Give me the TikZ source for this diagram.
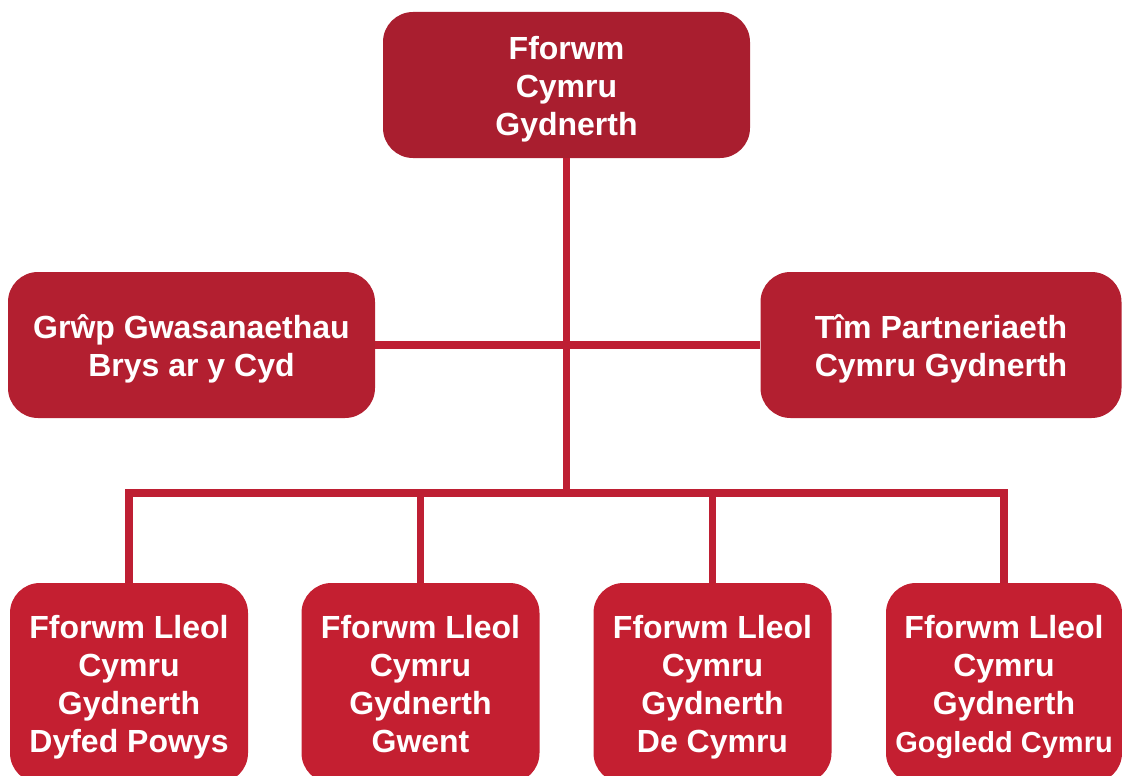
\documentclass[tikz,border=0pt]{standalone}
\usepackage{fontspec}
\setmainfont{Liberation Sans}

\definecolor{topred}{HTML}{A91E2F}
\definecolor{midred}{HTML}{B31F30}
\definecolor{lowred}{HTML}{C41F31}
\definecolor{linkred}{HTML}{BE1F33}

% invisible props so every box sets its lines at the same height
\newcommand{\hiprop}{\rule{0pt}{31pt}}
\newcommand{\loprop}{\rule[-7pt]{0pt}{7pt}}

\begin{document}
\begin{tikzpicture}[x=1pt,y=-1pt]
                    \tikzstyle{box}=[rounded corners=30pt,inner sep=0pt,text=white,align=center,font=\bfseries\fontsize{32}{38}\selectfont]
                    \tikzstyle{head}=[box,fill=topred,minimum width=367pt,minimum height=146pt]
                    \tikzstyle{mid}=[box,fill=midred,minimum height=146pt]
                    \tikzstyle{low}=[box,fill=lowred,minimum width=238pt,minimum height=200pt]
                    \tikzstyle{link}=[line width=7.5pt,draw=linkred,line join=miter]

                    \clip (0,0) rectangle (1122,776);

                    \node (fc) at (566.5,85) [head] {\hiprop Fforwm\\Cymru\\Gydnerth\loprop};

                    \node (gw) at (191.5,345) [mid,minimum width=367pt] {\hiprop Grŵp Gwasanaethau\\Brys ar y Cyd\loprop};
                    \node (tp) at (941,345) [mid,minimum width=361pt] {\hiprop Tîm Partneriaeth\\Cymru Gydnerth\loprop};

                    \node (l1) at (129,683) [low] {\hiprop Fforwm Lleol\\Cymru\\Gydnerth\\Dyfed Powys\loprop};
                    \node (l2) at (420.5,683) [low] {\hiprop Fforwm Lleol\\Cymru\\Gydnerth\\Gwent\loprop};
                    \node (l3) at (712.5,683) [low] {\hiprop Fforwm Lleol\\Cymru\\Gydnerth\\De Cymru\loprop};
                    \node (l4) at (1004,683) [low,minimum width=236pt] {\hiprop Fforwm Lleol\\Cymru\\Gydnerth\\{\fontsize{29}{38}\selectfont Gogledd Cymru}\loprop};

                    \coordinate (hub) at (566.5,493);

                    \draw [link] (gw.east) -- (tp.west);
                    \draw [link] (fc.south) -- (hub);
                    \draw [link] (l1.north) |- (hub) -| (l4.north);
                    \draw [link] (l2.north) -- (l2.north |- hub);
                    \draw [link] (l3.north) -- (l3.north |- hub);
                \end{tikzpicture}
\end{document}
